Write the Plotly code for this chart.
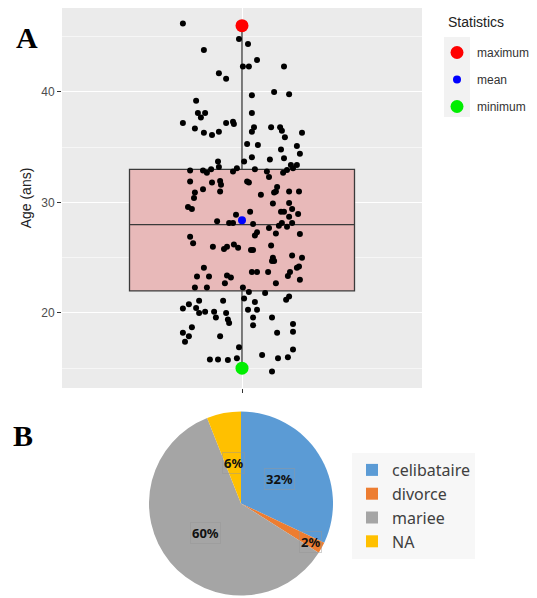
import math
import plotly.graph_objects as go

# ---------------- Panel A data ----------------
ages = [46.2, 44.8, 44.35, 43.8, 42.3, 42.3, 42.9, 42.3, 41.7, 41.2,
        39.7, 40.0, 39.8, 38.1, 36.8, 36.4, 36.8, 36.8, 36.5, 36.3,
        39.2, 38.1, 37.7, 38.1, 37.2, 36.7, 36.3, 36.1, 36.4, 37.2,
        37.3, 37.1, 33.7, 33.2, 32.9, 32.9, 32.7, 33.0, 32.8, 33.1,
        31.9, 31.8, 31.95, 31.6, 31.2, 31.0, 30.9, 30.4, 29.6, 29.4,
        28.3, 28.9, 28.15, 28.15, 26.9, 26.3, 26.0, 25.8, 26.0, 26.2,
        25.9, 35.9, 35.3, 35.2, 35.1, 34.8, 34.4, 34.1, 33.7, 33.9,
        34.0, 33.4, 33.4, 33.1, 32.95, 32.7, 33.0, 32.8, 32.3, 31.9,
        31.8, 31.4, 31.0, 30.9, 31.0, 31.0, 30.7, 29.96, 29.9, 29.4,
        29.15, 29.15, 29.15, 28.96, 28.7, 28.06, 28.15, 27.9, 28.15, 27.8,
        27.7, 27.3, 27.0, 27.2, 27.15, 26.1, 25.7, 25.7, 25.2, 25.0,
        25.0, 24.1, 23.3, 23.3, 23.4, 23.2, 22.7, 22.3, 22.3, 22.3,
        21.1, 20.8, 21.1, 20.4, 20.45, 20.0, 20.1, 20.1, 19.6, 20.0,
        19.4, 19.1, 18.7, 18.2, 17.9, 17.4, 17.9, 16.9, 15.8, 15.8,
        15.75, 15.9, 21.3, 24.7, 24.7, 24.2, 24.1, 23.7, 23.7, 23.7,
        23.7, 23.35, 23.0, 22.7, 21.9, 21.8, 21.5, 21.2, 21.0, 20.3,
        20.3, 19.6, 18.9, 19.6, 19.0, 18.2, 18.3, 16.7, 16.0, 16.2,
        15.9, 14.7]
jitter = [-0.197, -0.010, 0.020, -0.127, 0.003, 0.023, 0.050, 0.140, -0.077, -0.053,
          0.033, 0.107, 0.157, 0.033, 0.040, 0.033, 0.097, 0.127, 0.133, 0.200,
          -0.153, -0.147, -0.137, -0.123, -0.197, -0.157, -0.127, -0.100, -0.077, -0.053,
          -0.030, -0.027, -0.080, -0.077, -0.173, -0.130, -0.117, -0.103, -0.030, -0.017,
          -0.173, -0.100, -0.073, -0.070, -0.130, -0.073, -0.157, -0.160, -0.180, -0.167,
          -0.083, -0.020, -0.043, -0.030, -0.173, -0.163, -0.097, -0.060, -0.050, -0.027,
          -0.013, 0.143, 0.017, 0.053, 0.183, 0.130, 0.193, 0.033, 0.007, 0.093,
          0.140, 0.163, 0.183, 0.170, 0.150, 0.137, 0.043, 0.083, 0.090, 0.017,
          0.023, 0.117, 0.113, 0.107, 0.157, 0.190, 0.063, 0.157, 0.103, 0.167,
          0.027, 0.130, 0.140, 0.187, 0.157, 0.037, 0.133, 0.123, 0.167, 0.150,
          0.090, 0.050, 0.043, 0.113, 0.193, 0.097, 0.030, 0.037, 0.167, 0.200,
          0.103, -0.127, -0.150, -0.110, -0.050, -0.037, -0.057, -0.157, -0.117, 0.003,
          -0.143, -0.177, -0.063, -0.197, -0.153, -0.143, -0.123, -0.093, -0.087, -0.053,
          -0.047, -0.043, -0.167, -0.197, -0.177, -0.190, -0.073, -0.010, -0.107, -0.080,
          -0.047, -0.017, 0.007, 0.100, 0.107, 0.190, 0.183, 0.033, 0.050, 0.087,
          0.160, 0.153, 0.193, 0.113, 0.023, 0.077, 0.157, 0.147, 0.043, 0.020,
          0.050, 0.037, 0.037, 0.100, 0.170, 0.117, 0.170, 0.170, 0.153, 0.067,
          0.120, 0.100]

box_q1 = 22.0
box_median = 28.0
box_q3 = 33.0
box_lower = 15.0
box_upper = 46.0

stat_names = ["maximum", "mean", "minimum"]
stat_values = [46.0, 28.4, 15.0]
stat_colors = ["#FF0000", "#0000FF", "#00EE00"]
stat_sizes = [13, 8, 13]

# ---------------- Panel B data ----------------
pie_labels = ["celibataire", "divorce", "mariee", "NA"]
pie_values = [32, 2, 60, 6]
pie_colors = ["#5B9BD5", "#ED7D31", "#A5A5A5", "#FFC000"]
label_radius = [0.5, 0.86, 0.5, 0.45]

# page has an 8px body margin; layout is expressed in window pixels
OFF = 8
W, H = 537 - OFF, 598 - OFF


def fx(x):
    return (x - OFF) / W


def fy(y):
    return min(1.0, max(0.0, 1 - (y - OFF) / H))


fig = go.Figure()

fig.add_trace(go.Box(
    x=[1], q1=[box_q1], median=[box_median], q3=[box_q3],
    lowerfence=[box_lower], upperfence=[box_upper],
    width=0.75, whiskerwidth=0, boxpoints=False,
    fillcolor="#E8B9B9", line=dict(color="#3A3A3A", width=1.3),
    showlegend=False, hoverinfo="skip"))

fig.add_trace(go.Scatter(
    x=[1 + j for j in jitter], y=ages, mode="markers",
    marker=dict(color="black", size=6), showlegend=False, hoverinfo="skip"))

for name, val, col, sz in zip(stat_names, stat_values, stat_colors, stat_sizes):
    fig.add_trace(go.Scatter(
        x=[1], y=[val], mode="markers", name=name, legendgroup=name,
        marker=dict(color=col, size=sz), legend="legend"))

pie_dom_x = [fx(149), fx(333)]
pie_dom_y = [fy(597), fy(410)]
fig.add_trace(go.Pie(
    labels=pie_labels, values=pie_values, sort=False, direction="clockwise",
    marker=dict(colors=pie_colors, line=dict(width=0)),
    textinfo="none", domain=dict(x=pie_dom_x, y=pie_dom_y),
    legend="legend2", hoverinfo="skip"))

# pie label annotations placed at slice mid-angles (figure pixel space)
pw = (pie_dom_x[1] - pie_dom_x[0]) * W
ph = (pie_dom_y[1] - pie_dom_y[0]) * H
R = min(pw, ph) / 2
cx = (pie_dom_x[0] + pie_dom_x[1]) / 2 * W
cy = (1 - (pie_dom_y[0] + pie_dom_y[1]) / 2) * H
total = sum(pie_values)
cum = 0
for v, rf in zip(pie_values, label_radius):
    mid = (cum + v / 2) / total * 2 * math.pi
    cum += v
    px = cx + rf * R * math.sin(mid)
    py = cy - rf * R * math.cos(mid)
    fig.add_annotation(
        x=px / W, y=1 - py / H, xref="paper", yref="paper",
        xanchor="center", yanchor="middle",
        text="<b>%d%%</b>" % round(100 * v / total), showarrow=False,
        font=dict(family="Noto Sans", size=13, color="#111111"),
        bordercolor="rgba(150,150,150,0.45)", borderwidth=1, borderpad=1)

fig.add_annotation(x=fx(27), y=fy(38), xref="paper", yref="paper",
                   xanchor="center", yanchor="middle",
                   text="<b>A</b>", showarrow=False,
                   font=dict(family="Liberation Serif", size=30, color="black"))
fig.add_annotation(x=fx(23), y=fy(435), xref="paper", yref="paper",
                   xanchor="center", yanchor="middle",
                   text="<b>B</b>", showarrow=False,
                   font=dict(family="Liberation Serif", size=30, color="black"))
fig.add_annotation(x=fx(446), y=fy(22), xref="paper", yref="paper",
                   xanchor="left", yanchor="middle",
                   text="Statistics", showarrow=False,
                   font=dict(family="Liberation Sans", size=14, color="#222222"))

# legend key background (ggplot style)
fig.add_shape(type="rect", xref="paper", yref="paper",
              x0=fx(444), x1=fx(470), y0=fy(117), y1=fy(37),
              fillcolor="#F2F2F2", line=dict(width=0), layer="below")

fig.update_layout(
    width=W, height=H, margin=dict(l=0, r=0, t=0, b=0),
    paper_bgcolor="white", plot_bgcolor="#EBEBEB",
    font=dict(family="Liberation Sans", color="#4D4D4D"),
    xaxis=dict(domain=[fx(62), fx(422)], range=[0.4, 1.6],
               tickvals=[1], ticktext=[""], ticks="outside", ticklen=4,
               tickcolor="#333333", showgrid=True, gridcolor="white",
               gridwidth=1.2, zeroline=False, showline=False),
    yaxis=dict(domain=[fy(388), fy(8)], range=[13.21, 47.60],
               tickvals=[20, 30, 40], ticks="outside", ticklen=4,
               tickcolor="#333333", tickfont=dict(size=12, color="#4D4D4D"),
               showgrid=True, gridcolor="white", gridwidth=1.2,
               minor=dict(tickvals=[15, 25, 35, 45], showgrid=True,
                          gridcolor="#F6F6F6", gridwidth=0.6),
               zeroline=False, showline=False,
               title=dict(text="Age (ans)", font=dict(size=14, color="#222222"),
                          standoff=6)),
    legend=dict(x=fx(437), y=fy(38), xanchor="left", yanchor="top",
                font=dict(size=12, color="#333333"), bgcolor="rgba(0,0,0,0)",
                traceorder="grouped", tracegroupgap=8, itemwidth=30),
    legend2=dict(x=fx(352), y=fy(453), xanchor="left", yanchor="top",
                 font=dict(family="Noto Sans", size=16, color="#404040"),
                 bgcolor="#F7F7F7", itemwidth=30),
)

fig.write_html("out.html")
